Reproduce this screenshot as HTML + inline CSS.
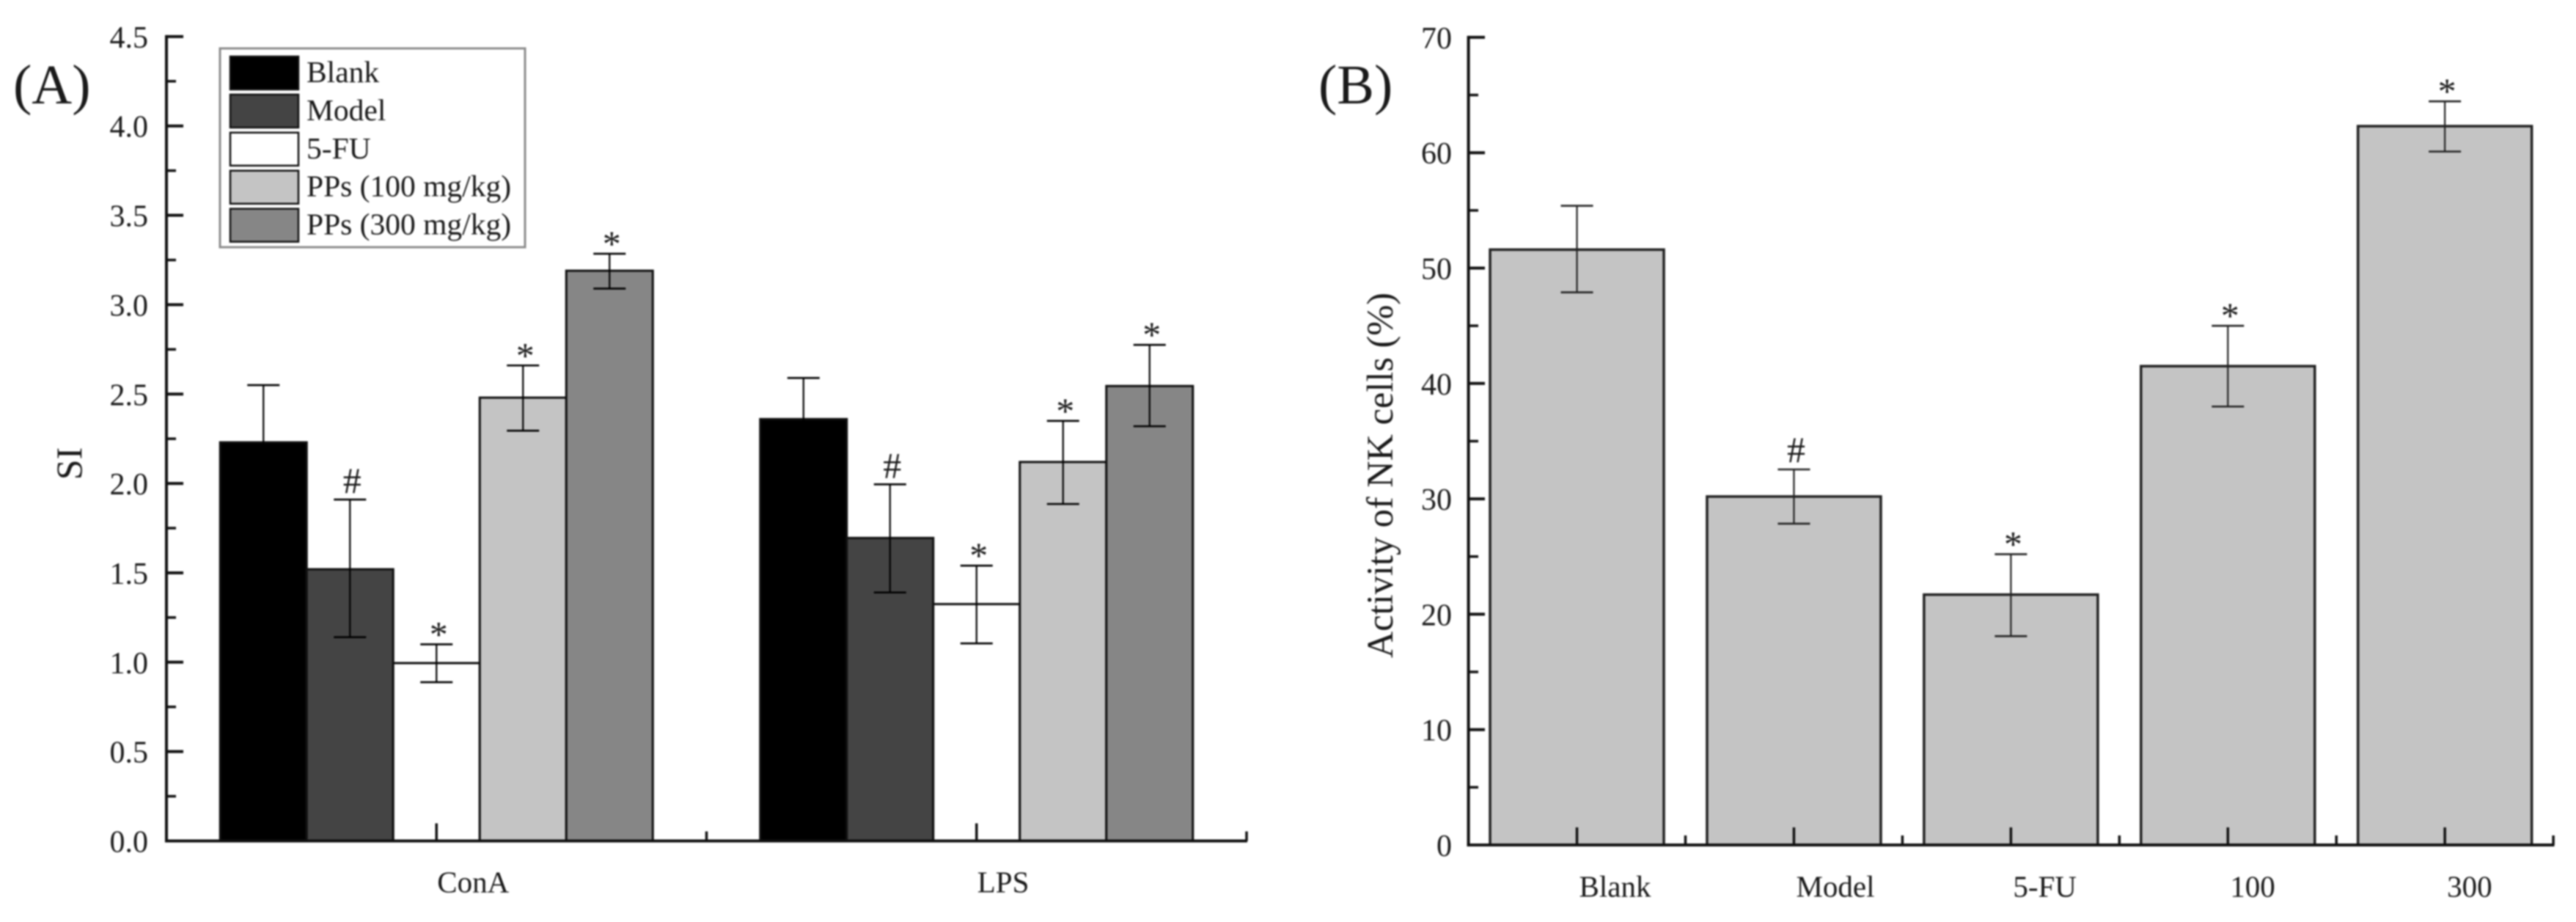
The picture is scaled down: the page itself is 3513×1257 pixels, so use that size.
<!DOCTYPE html>
<html lang="en">
<head>
<meta charset="utf-8">
<title>SI and NK cell activity bar charts</title>
<style>
html,body{margin:0;padding:0;background:#fff;width:3513px;height:1257px;overflow:hidden}
svg{display:block;filter:blur(1.1px)}
text{font-family:"Liberation Serif","Times New Roman",serif;fill:#1a1a1a}
</style>
</head>
<body>
<svg id="fig" xmlns="http://www.w3.org/2000/svg" width="3513" height="1257" viewBox="0 0 3513 1257">
<rect x="0" y="0" width="3513" height="1257" fill="#fff"></rect>
<g id="panelA"></g>
<g id="panelB"></g>
</svg>
<script>
// ---- Panel A data ----
const groupsA = ['ConA', 'LPS'];
const seriesA = ['Blank', 'Model', '5-FU', 'PPs (100 mg/kg)', 'PPs (300 mg/kg)'];
const fillsA = ['#000000', '#444444', '#ffffff', '#c4c4c4', '#868686'];
const conaMeans = [2.23, 1.52, 0.995, 2.48, 3.19];
const conaUpper = [2.55, 1.91, 1.10, 2.66, 3.285];
const conaLower = [1.91, 1.14, 0.888, 2.295, 3.09];
const conaMarks = ['', '#', '*', '*', '*'];
const lpsMeans = [2.36, 1.695, 1.325, 2.12, 2.545];
const lpsUpper = [2.59, 1.995, 1.54, 2.35, 2.775];
const lpsLower = [2.13, 1.39, 1.105, 1.885, 2.32];
const lpsMarks = ['', '#', '*', '*', '*'];
const ticksA = ['0.0', '0.5', '1.0', '1.5', '2.0', '2.5', '3.0', '3.5', '4.0', '4.5'];

// ---- Panel B data ----
const categoriesB = ['Blank', 'Model', '5-FU', '100', '300'];
const meansB = [51.6, 30.2, 21.7, 41.5, 62.3];
const upperB = [55.4, 32.55, 25.2, 45.0, 64.45];
const lowerB = [47.9, 27.85, 18.1, 38.0, 60.1];
const marksB = ['', '#', '*', '*', '*'];
const ticksB = ['0', '10', '20', '30', '40', '50', '60', '70'];

const NS = 'http://www.w3.org/2000/svg';
function mk(parent, tag, attrs, txt) {
  const el = document.createElementNS(NS, tag);
  for (const k in attrs) el.setAttribute(k, attrs[k]);
  if (txt !== undefined) el.textContent = txt;
  parent.appendChild(el);
  return el;
}
const AX = '#111';
const ERR = '#000';

// ---- Axis functions ----
function yA(v) { return 1146.5 - 243.7 * v; }
function xGroupA(g) { return 227 + 736.5 * (g + 0.5); }
function xBarA(g, s) { return xGroupA(g) + (s - 2.5) * 118; }
function yB(v) { return 1152 - 15.73 * v; }
function xCatB(i) { return 2002.6 + 295.9 * (i + 0.5); }

function panelLine(p, x1, y1, x2, y2, w, c) {
  return mk(p, 'line', {x1: x1, y1: y1, x2: x2, y2: y2, stroke: c, 'stroke-width': w});
}

// ---- Panel A ----
const pA = document.getElementById('panelA');
const labelA = mk(pA, 'text', {x: 18, y: 141, 'font-size': 76}, '(A)');



const titleA = mk(pA, 'text', {transform: 'translate(111,632) rotate(-90)', 'text-anchor': 'middle', 'font-size': 50}, 'SI');



[[conaMeans, conaUpper, conaLower, conaMarks], [lpsMeans, lpsUpper, lpsLower, lpsMarks]].forEach(function (set, g) {
  set[0].forEach(function (m, s) {
    const bar = mk(pA, 'rect', {x: xBarA(g, s), y: yA(m), width: 118, height: yA(0) - yA(m), fill: fillsA[s], stroke: '#111', 'stroke-width': 3});
    
    
  });
  set[0].forEach(function (m, s) {
    const cx = xBarA(g, s) + 59;
    const stem = panelLine(pA, cx, yA(set[1][s]), cx, yA(set[2][s]), 2.2, ERR);
    
    
    const capU = panelLine(pA, cx - 22, yA(set[1][s]), cx + 22, yA(set[1][s]), 2.6, ERR);
    
    
    const capL = panelLine(pA, cx - 22, yA(set[2][s]), cx + 22, yA(set[2][s]), 2.6, ERR);
    
    
    const mark = set[3][s];
    if (mark) {
      const t = mk(pA, 'text', {x: cx + 3, y: yA(set[1][s]) + (mark === '*' ? 3 : -9), 'text-anchor': 'middle', 'font-size': 50}, mark);
      
      
    }
  });
});

const yAxisA = panelLine(pA, 227, yA(4.5) - 2, 227, yA(0) + 2, 4, AX);


const xAxisA = panelLine(pA, 225, yA(0), 1701, yA(0), 4, AX);



ticksA.forEach(function (lab, i) {
  const v = parseFloat(lab);
  const tk = panelLine(pA, 227, yA(v), 250, yA(v), 4, AX);
  
  
  const tl = mk(pA, 'text', {x: 202, y: yA(v) + 15, 'text-anchor': 'end', 'font-size': 42}, lab);
  
  
  if (i < ticksA.length - 1) {
    const mn = panelLine(pA, 227, yA(v + 0.25), 240, yA(v + 0.25), 3.5, AX);
    
    
  }
});

groupsA.forEach(function (g, i) {
  const cx = xGroupA(i);
  const tk = panelLine(pA, cx, yA(0), cx, yA(0) - 24, 3.5, AX);
  
  
  const right = cx + 368.25;
  const mn = panelLine(pA, right, yA(0), right, yA(0) - 13, 3.5, AX);
  
  
  const tl = mk(pA, 'text', {x: cx + 1, y: 1216.5, 'font-size': 41}, g);
  
  
});

// Legend
const legend = mk(pA, 'g', {});


const legBox = mk(legend, 'rect', {x: 300, y: 66, width: 416, height: 271, fill: '#fff', stroke: '#8c8c8c', 'stroke-width': 3});


seriesA.forEach(function (name, s) {
  const top = 76 + 51.9 * s;
  const sw = mk(legend, 'rect', {x: 314, y: top + 1, width: 93, height: 45, fill: fillsA[s], stroke: '#111', 'stroke-width': 2.5});
  
  
  const tx = mk(legend, 'text', {x: 418, y: top + 36, 'font-size': 41.5}, name);
  
  
});

// ---- Panel B ----
const pB = document.getElementById('panelB');
const labelB = mk(pB, 'text', {x: 1798, y: 141, 'font-size': 76}, '(B)');



const titleB = mk(pB, 'text', {transform: 'translate(1899,648) rotate(-90)', 'text-anchor': 'middle', 'font-size': 50.4}, 'Activity of NK cells (%)');



meansB.forEach(function (m, i) {
  const cx = xCatB(i);
  const bar = mk(pB, 'rect', {x: cx - 118.5, y: yB(m), width: 237, height: yB(0) - yB(m), fill: '#c4c4c4', stroke: '#222', 'stroke-width': 3.5});
  
  
  const stem = panelLine(pB, cx, yB(upperB[i]), cx, yB(lowerB[i]), 2.2, '#222');
  
  
  const capU = panelLine(pB, cx - 22, yB(upperB[i]), cx + 22, yB(upperB[i]), 2.6, '#222');
  
  
  const capL = panelLine(pB, cx - 22, yB(lowerB[i]), cx + 22, yB(lowerB[i]), 2.6, '#222');
  
  
  if (marksB[i]) {
    const t = mk(pB, 'text', {x: cx + 3, y: yB(upperB[i]) + (marksB[i] === '*' ? 3 : -10), 'text-anchor': 'middle', 'font-size': 50}, marksB[i]);
    
    
  }
  const tk = panelLine(pB, cx, yB(0), cx, yB(0) - 24, 3.5, AX);
  
  
  const mn = panelLine(pB, cx + 147.95, yB(0), cx + 147.95, yB(0) - 13, 3.5, AX);
  
  
  const tl = mk(pB, 'text', {x: cx + 3, y: 1222.5, 'font-size': 41}, categoriesB[i]);
  
  
});

const yAxisB = panelLine(pB, 2002.6, yB(70) - 2, 2002.6, yB(0) + 2, 4, AX);


const xAxisB = panelLine(pB, 2000.6, yB(0), 3483.5, yB(0), 4, AX);



ticksB.forEach(function (lab, i) {
  const v = parseFloat(lab);
  const tk = panelLine(pB, 2002.6, yB(v), 2025, yB(v), 4, AX);
  
  
  const tl = mk(pB, 'text', {x: 1980, y: yB(v) + 15, 'text-anchor': 'end', 'font-size': 42}, lab);
  
  
  if (i < ticksB.length - 1) {
    const mn = panelLine(pB, 2002.6, yB(v + 5), 2016, yB(v + 5), 3.5, AX);
    
    
  }
});
</script>
</body>
</html>
